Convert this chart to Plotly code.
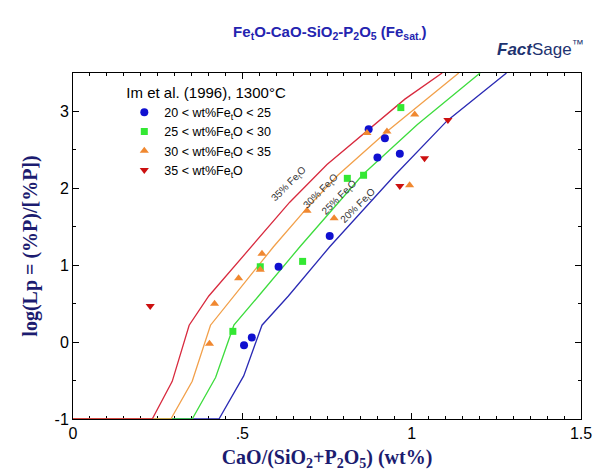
import plotly.graph_objects as go

# ---- model curves (log Lp vs basicity) ----
fe20_x = [0.0, 0.431, 0.504, 0.558, 0.636, 0.758, 0.948, 1.105, 1.280]
fe20_y = [-1.0, -1.0, -0.44, 0.22, 0.60, 1.24, 2.16, 2.88, 3.50]
fe25_x = [0.0, 0.352, 0.421, 0.475, 0.548, 0.670, 0.856, 1.017, 1.202]
fe25_y = [-1.0, -1.0, -0.46, 0.22, 0.60, 1.24, 2.18, 2.83, 3.50]
fe30_x = [0.0, 0.289, 0.352, 0.406, 0.592, 0.690, 0.782, 0.927, 1.139]
fe30_y = [-1.0, -1.0, -0.51, 0.22, 1.24, 1.74, 2.17, 2.74, 3.50]
fe35_x = [0.0, 0.234, 0.293, 0.343, 0.401, 0.527, 0.640, 0.750, 0.873, 0.980, 1.090]
fe35_y = [-1.0, -1.0, -0.51, 0.22, 0.60, 1.24, 1.82, 2.31, 2.77, 3.16, 3.50]

# ---- experimental points, Im et al. (1996) ----
g1_x = [0.505, 0.528, 0.607, 0.758, 0.873, 0.899, 0.921, 0.965]
g1_y = [-0.04, 0.06, 0.98, 1.38, 2.77, 2.40, 2.65, 2.45]
g2_x = [0.472, 0.553, 0.678, 0.810, 0.858, 0.968]
g2_y = [0.14, 0.98, 1.05, 2.13, 2.17, 3.05]
g3_x = [0.403, 0.418, 0.489, 0.553, 0.558, 0.691, 0.771, 0.868, 0.927, 0.994, 1.009]
g3_y = [-0.02, 0.50, 0.83, 0.94, 1.15, 1.71, 1.61, 2.72, 2.74, 2.04, 2.96]
g4_x = [0.228, 0.965, 1.038, 1.107]
g4_y = [0.47, 2.03, 2.39, 2.89]

# curve labels
lab_text = ["35% Fe<sub>t</sub>O", "30% Fe<sub>t</sub>O", "25% Fe<sub>t</sub>O", "20% Fe<sub>t</sub>O"]
lab_x = [0.638, 0.733, 0.784, 0.841]
lab_y = [2.05, 1.96, 1.88, 1.77]

x_tickvals = [0, 0.5, 1, 1.5]
x_ticktext = ["0", ".5", "1", "1.5"]
y_tickvals = [-1, 0, 1, 2, 3]
y_ticktext = ["-1", "0", "1", "2", "3"]

fig = go.Figure()

for xs, ys, col in [(fe20_x, fe20_y, "#2a2ab4"), (fe25_x, fe25_y, "#3ddc3d"),
                    (fe30_x, fe30_y, "#f2a04a"), (fe35_x, fe35_y, "#d82a3e")]:
    fig.add_trace(go.Scatter(x=xs, y=ys, mode="lines", line=dict(color=col, width=1.3),
                             showlegend=False, hoverinfo="skip"))

fig.add_trace(go.Scatter(x=g1_x, y=g1_y, mode="markers", name="20 &lt; wt%Fe<sub>t</sub>O &lt; 25",
                         marker=dict(symbol="circle", size=8, color="#1010d0")))
fig.add_trace(go.Scatter(x=g2_x, y=g2_y, mode="markers", name="25 &lt; wt%Fe<sub>t</sub>O &lt; 30",
                         marker=dict(symbol="square", size=7, color="#33e833")))
fig.add_trace(go.Scatter(x=g3_x, y=g3_y, mode="markers", name="30 &lt; wt%Fe<sub>t</sub>O &lt; 35",
                         marker=dict(symbol="triangle-up", size=8, color="#f08830")))
fig.add_trace(go.Scatter(x=g4_x, y=g4_y, mode="markers", name="35 &lt; wt%Fe<sub>t</sub>O",
                         marker=dict(symbol="triangle-down", size=8, color="#cc1010")))

for t, x, y in zip(lab_text, lab_x, lab_y):
    fig.add_annotation(x=x, y=y, text=t, showarrow=False, textangle=-45,
                       font=dict(family="Liberation Sans", size=10, color="#333333"))

# FactSage logo text
fig.add_annotation(xref="paper", yref="paper", x=1.01, y=1.035, xanchor="right", yanchor="bottom",
                   text="<b><i>Fact</i></b>Sage<sup>™</sup>", showarrow=False,
                   font=dict(family="Liberation Sans", size=17, color="#1e3370"))

axis_common = dict(showline=True, linecolor="black", linewidth=1, mirror="ticks",
                   ticks="inside", ticklen=6, tickcolor="black", showgrid=False, zeroline=False,
                   tickfont=dict(family="Liberation Sans", size=16, color="black"))

fig.update_layout(
    width=604, height=476,
    margin=dict(l=73, r=19, t=73, b=51),
    paper_bgcolor="white", plot_bgcolor="white",
    title=dict(text="<b>Fe<sub>t</sub>O-CaO-SiO<sub>2</sub>-P<sub>2</sub>O<sub>5</sub> (Fe<sub>sat.</sub>)</b>",
               x=0.546, xanchor="center", y=0.933, yanchor="middle", yref="container",
               font=dict(family="Liberation Sans", size=15, color="#2424b0")),
    xaxis=dict(range=[0, 1.5], tickvals=x_tickvals, ticktext=x_ticktext, layer="below traces",
               minor=dict(dtick=0.05, ticks="inside", ticklen=3, tickcolor="black"),
               title=dict(text="<b>CaO/(SiO<sub>2</sub>+P<sub>2</sub>O<sub>5</sub>) (wt%)</b>", standoff=8,
                          font=dict(family="Liberation Serif", size=20, color="#1c1c70")),
               **axis_common),
    yaxis=dict(range=[-1, 3.5], tickvals=y_tickvals, ticktext=y_ticktext,
               minor=dict(dtick=0.5, ticks="inside", ticklen=3, tickcolor="black"),
               title=dict(text="<b>log(Lp = (%P)/[%P])</b>", standoff=11,
                          font=dict(family="Liberation Serif", size=20, color="#1c1c70")),
               **axis_common),
    legend=dict(x=0.101, y=0.985, xanchor="left", yanchor="top", bgcolor="rgba(0,0,0,0)",
                title=dict(text="Im et al. (1996), 1300°C",
                           font=dict(family="Liberation Sans", size=15, color="black")),
                font=dict(family="Liberation Sans", size=12.5, color="black"),
                tracegroupgap=0, itemwidth=30),
)

fig.write_html("out.html")
